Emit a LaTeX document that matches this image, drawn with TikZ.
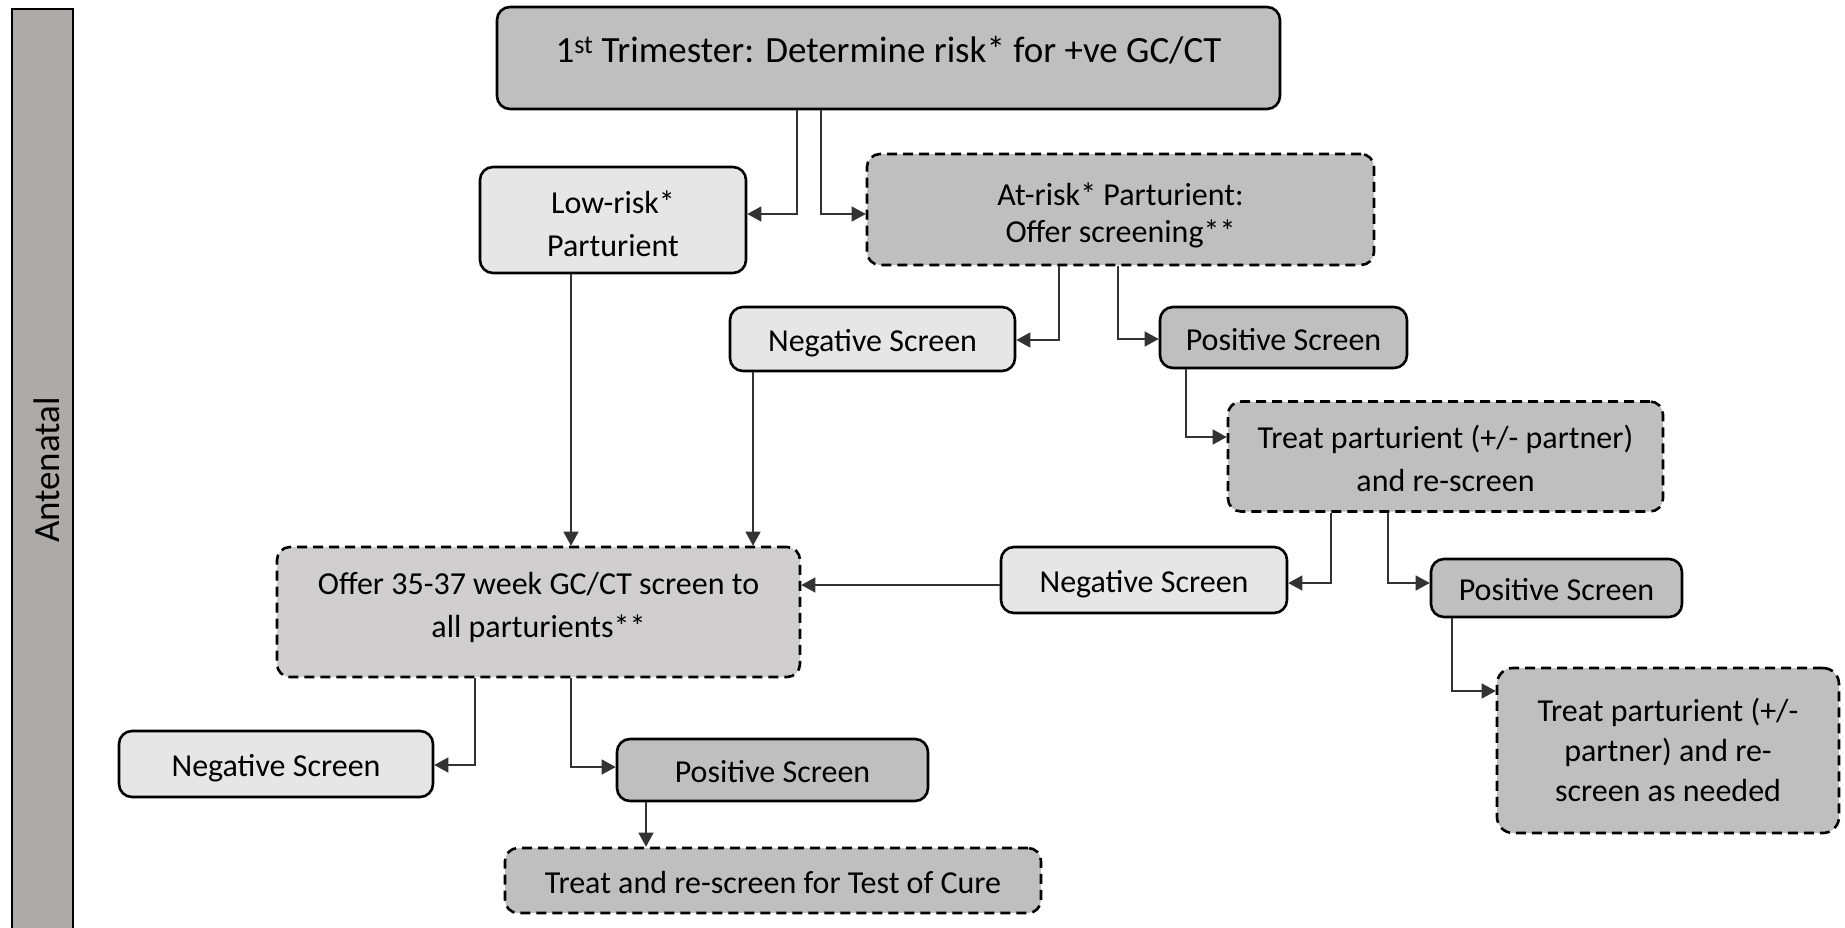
\documentclass[tikz,border=0pt]{standalone}
\usepackage{fontspec}
\setmainfont{Carlito}
\usetikzlibrary{arrows.meta}
\definecolor{darkfill}{HTML}{BFBFBF}
\definecolor{lightfill}{HTML}{E7E6E6}
\definecolor{midfill}{HTML}{D0CECE}
\definecolor{barfill}{HTML}{AEAAAA}
\tikzset{
  box/.style={draw=black, line width=2.6pt, rounded corners=13pt, align=center,
    inner sep=0pt, font=\fontsize{32}{43}\selectfont, text height=25pt, text depth=0pt},
  solidbox/.style={box},
  dashbox/.style={box, dash pattern=on 10pt off 6pt},
  th/.style={text height=#1pt, text depth=0pt},
  conn/.style={draw=black!80, line width=1.3pt, -{Triangle[length=14pt,width=15pt]}},
  wh/.style 2 args={minimum width=#1pt, minimum height=#2pt},
}
\begin{document}
\begin{tikzpicture}[x=1pt,y=-1pt]
\useasboundingbox (0,0) rectangle (1845,927);
% side bar
\fill[barfill] (12,9) rectangle (73,940);
\draw[line width=2.2pt] (12,940) -- (12,9) -- (73,9) -- (73,940);
\node[rotate=90, font=\fontsize{37}{44}\selectfont] (bar) at (47,470) {Antenatal};

% boxes
\node[solidbox, fill=darkfill, wh={783}{102}, th=9,
  font=\fontsize{37}{44}\selectfont] (top) at (888.5,58)
  {1\textsuperscript{st} Trimester: Determine risk* for +ve GC/CT};
\node[solidbox, fill=lightfill, wh={266}{106}, th=72] (low) at (613,220) {Low-risk*\\Parturient};
\node[dashbox, fill=darkfill, wh={507}{111}, th=66, font=\fontsize{32}{37}\selectfont] (atrisk) at (1120.5,209.5) {At-risk* Parturient:\\Offer screening**};
\node[solidbox, fill=lightfill, wh={285}{64}] (negA) at (872.5,339) {Negative Screen};
\node[solidbox, fill=darkfill, wh={247}{61}] (posA) at (1283.5,337.5) {Positive Screen};
\node[dashbox, fill=darkfill, wh={435}{110}, th=70] (treatA) at (1445.5,456.5) {Treat parturient (+/- partner)\\and re-screen};
\node[solidbox, fill=lightfill, wh={286}{66}] (negB) at (1144,580) {Negative Screen};
\node[solidbox, fill=darkfill, wh={251}{58}] (posB) at (1556.5,588) {Positive Screen};
\node[dashbox, fill=darkfill, wh={342}{165}, th=101, rounded corners=16pt, font=\fontsize{32}{40}\selectfont] (treatB) at (1668,750.5) {Treat parturient (+/-\\partner) and re-\\screen as needed};
\node[dashbox, fill=midfill, wh={523}{130}, th=51] (offer) at (538.5,612) {Offer 35-37 week GC/CT screen to\\all parturients**};
\node[solidbox, fill=lightfill, wh={314}{66}] (negC) at (276,764) {Negative Screen};
\node[solidbox, fill=darkfill, wh={311}{62}] (posC) at (772.5,770) {Positive Screen};
\node[dashbox, fill=darkfill, wh={536}{65}] (cure) at (773,880.5) {Treat and re-screen for Test of Cure};

% connectors
\draw[conn] (top.south -| 797,0) |- (low.east |- 0,214);
\draw[conn] (top.south -| 821,0) |- (atrisk.west |- 0,214);
\draw[conn] (atrisk.south -| 1059,0) |- (negA.east |- 0,340);
\draw[conn] (atrisk.south -| 1118,0) |- (posA.west |- 0,339);
\draw[conn] (posA.south -| 1186,0) |- (treatA.west |- 0,437);
\draw[conn] (treatA.south -| 1331,0) |- (negB.east |- 0,583);
\draw[conn] (treatA.south -| 1388,0) |- (posB.west |- 0,583);
\draw[conn] (posB.south -| 1452,0) |- (treatB.west |- 0,691);
\draw[conn] (negB.west |- 0,585) -- (offer.east |- 0,585);
\draw[conn] (low.south -| 571,0) -- (offer.north -| 571,0);
\draw[conn] (negA.south -| 753,0) -- (offer.north -| 753,0);
\draw[conn] (offer.south -| 475,0) |- (negC.east |- 0,765);
\draw[conn] (offer.south -| 571,0) |- (posC.west |- 0,767);
\draw[conn] (posC.south -| 646,0) -- (cure.north -| 646,0);
\end{tikzpicture}
\end{document}
